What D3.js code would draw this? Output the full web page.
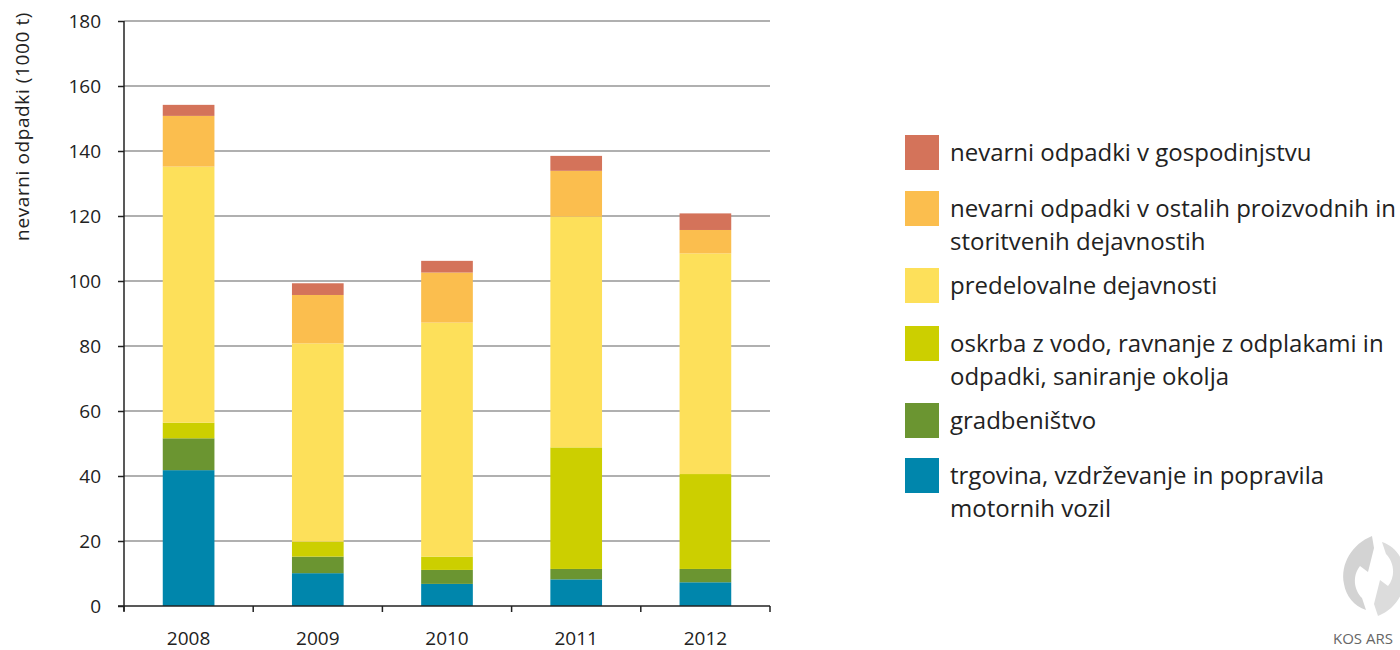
<!DOCTYPE html>
<html>
<head>
<meta charset="utf-8">
<script src="https://cdn.jsdelivr.net/npm/d3@7"></script>
<style>
  body { margin: 0; background: #fff; }
  svg { font-family: "Open Sans", "Noto Sans", sans-serif; }
  .grid line { stroke: #b0b0b0; stroke-width: 2; }
  .axis path, .axis line { stroke: #222; stroke-width: 1.5; }
  .axis text { fill: #222; font-size: 19px; font-family: "Open Sans", sans-serif; }
</style>
</head>
<body>
<div id="chart"></div>
<script>
var years = ["2008", "2009", "2010", "2011", "2012"];
// stacking order bottom -> top
var seriesNames = [
  "trgovina, vzdrževanje in popravila motornih vozil",
  "gradbeništvo",
  "oskrba z vodo, ravnanje z odplakami in odpadki, saniranje okolja",
  "predelovalne dejavnosti",
  "nevarni odpadki v ostalih proizvodnih in storitvenih dejavnostih",
  "nevarni odpadki v gospodinjstvu"
];
var trgovina    = [41.8, 10.1, 6.8, 8.2, 7.3];
var gradbenistvo = [9.8, 5.1, 4.3, 3.2, 4.1];
var oskrba      = [4.8, 4.6, 4.1, 37.4, 29.2];
var predelovalne = [78.8, 61.0, 72.0, 71.0, 67.9];
var ostale      = [15.6, 14.9, 15.4, 14.1, 7.2];
var gospodinjstvo = [3.4, 3.6, 3.6, 4.6, 5.1];
var yTicks = [0, 20, 40, 60, 80, 100, 120, 140, 160, 180];
var legendLines = [
  ["nevarni odpadki v gospodinjstvu"],
  ["nevarni odpadki v ostalih proizvodnih in", "storitvenih dejavnostih"],
  ["predelovalne dejavnosti"],
  ["oskrba z vodo, ravnanje z odplakami in", "odpadki, saniranje okolja"],
  ["gradbeništvo"],
  ["trgovina, vzdrževanje in popravila", "motornih vozil"]
];
var colors = ["#0086ac", "#6b9531", "#cccf00", "#fde05a", "#fbbe4e", "#d4735a"];

var allSeries = [trgovina, gradbenistvo, oskrba, predelovalne, ostale, gospodinjstvo];
var table = years.map(function(y, i) {
  var row = { year: y };
  seriesNames.forEach(function(n, k) { row[n] = allSeries[k][i]; });
  return row;
});

var W = 1400, H = 650;
var margin = { top: 21, left: 124, right: 630, bottom: 44 };
var width = W - margin.left - margin.right,
    height = H - margin.top - margin.bottom;

var svg = d3.select("#chart").append("svg")
  .attr("width", W).attr("height", H);
var g = svg.append("g")
  .attr("transform", "translate(" + margin.left + "," + margin.top + ")");

var x = d3.scaleBand().domain(years).range([0, width]).paddingInner(0.6).paddingOuter(0.3);
var y = d3.scaleLinear().domain([0, 180]).range([height, 0]);

// gridlines
g.append("g").attr("class", "grid")
  .selectAll("line")
  .data(yTicks.filter(function(d) { return d > 0; }))
  .enter().append("line")
  .attr("x1", 0).attr("x2", width)
  .attr("y1", function(d) { return y(d); })
  .attr("y2", function(d) { return y(d); });

var stack = d3.stack().keys(seriesNames);
var layers = stack(table);

g.selectAll(".layer")
  .data(layers)
  .enter().append("g")
  .attr("class", "layer")
  .attr("fill", function(d, i) { return colors[i]; })
  .selectAll("rect")
  .data(function(d) { return d; })
  .enter().append("rect")
  .attr("x", function(d) { return x(d.data.year); })
  .attr("width", x.bandwidth())
  .attr("y", function(d) { return y(d[1]); })
  .attr("height", function(d) { return y(d[0]) - y(d[1]); });

// y axis
var yAxis = g.append("g").attr("class", "axis")
  .call(d3.axisLeft(y).tickValues(yTicks).tickSize(6).tickPadding(17));
yAxis.select(".domain").attr("d", "M0," + (height + 5) + "V0");

// x axis with ticks at band edges
var xAxis = g.append("g").attr("class", "axis")
  .attr("transform", "translate(0," + height + ")");
xAxis.append("line").attr("x1", -6).attr("x2", width).attr("y1", 0).attr("y2", 0);
xAxis.selectAll(".edge")
  .data(d3.range(years.length + 1))
  .enter().append("line")
  .attr("class", "edge")
  .attr("x1", function(d) { return d * width / years.length; })
  .attr("x2", function(d) { return d * width / years.length; })
  .attr("y1", 0).attr("y2", 6);
xAxis.selectAll(".lbl")
  .data(years)
  .enter().append("text")
  .attr("class", "lbl")
  .attr("x", function(d) { return x(d) + x.bandwidth() / 2; })
  .attr("y", 39)
  .attr("text-anchor", "middle")
  .text(function(d) { return d; });

// y title
svg.append("text")
  .attr("transform", "translate(29,12) rotate(-90)")
  .attr("text-anchor", "end")
  .attr("fill", "#222")
  .style("font-size", "19px")
  .style("letter-spacing", "0.6px")
  .text("nevarni odpadki (1000 t)");

// legend (top = last series)
var legendY = [135, 191, 268, 326, 403, 458];
var legend = svg.append("g").attr("transform", "translate(905,0)");
legendLines.forEach(function(lines, i) {
  var row = legend.append("g").attr("transform", "translate(0," + legendY[i] + ")");
  row.append("rect").attr("width", 34).attr("height", 35)
    .attr("fill", colors[colors.length - 1 - i]);
  lines.forEach(function(t, j) {
    row.append("text")
      .attr("x", 45).attr("y", 26 + j * 33)
      .attr("fill", "#222")
      .style("font-size", "24px")
      .text(t);
  });
});

// logo
var logo = svg.append("g").attr("transform", "translate(1374,576)");
logo.append("path")
  .attr("fill", "#d3d3d3")
  .attr("d", "M-2,-40 C-22,-32 -34,-12 -30,8 C-28,20 -20,30 -8,34 L-12,22 C-20,14 -22,0 -14,-10 L-6,-4 L0,-28 Z");
logo.append("path")
  .attr("fill", "#dcdcdc")
  .attr("d", "M4,40 C24,32 34,12 30,-8 C28,-20 20,-30 8,-34 L12,-22 C20,-14 22,0 14,10 L6,4 L0,28 Z");
svg.append("text")
  .attr("x", 1333).attr("y", 644)
  .attr("fill", "#666")
  .style("font-size", "15px")
  .text("KOS ARS");
</script>
</body>
</html>
